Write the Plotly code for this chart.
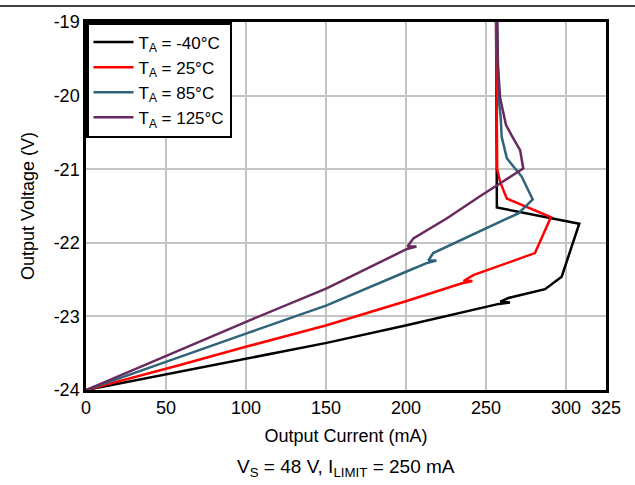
import plotly.graph_objects as go

# Output current (mA) and output voltage (V) per ambient temperature
i_m40 = [256.3, 256.5, 256.7, 256.8, 308.3, 297.3, 286.9, 264.0, 259.0, 265.0, 258.0, 200.4, 150.4, 100.4, 58.75, 0.0]
v_m40 = [-19.0, -20.5, -21.3, -21.52, -21.74, -22.46, -22.63, -22.75, -22.80, -22.81, -22.83, -23.12, -23.36, -23.57, -23.75, -24.0]

i_25 = [256.3, 256.5, 257.0, 258.8, 263.0, 290.6, 280.6, 242.0, 236.0, 241.5, 235.0, 200.4, 150.4, 100.4, 58.75, 0.0]
v_25 = [-19.0, -20.5, -21.0, -21.17, -21.40, -21.65, -22.14, -22.44, -22.52, -22.52, -22.55, -22.79, -23.12, -23.41, -23.66, -24.0]

i_85 = [257.0, 257.7, 259.2, 259.8, 263.0, 272.3, 279.2, 270.2, 217.0, 214.0, 219.0, 212.5, 200.4, 150.4, 100.4, 58.75, 0.0]
v_85 = [-19.0, -20.0, -20.3, -20.56, -20.85, -21.10, -21.41, -21.60, -22.14, -22.24, -22.24, -22.28, -22.39, -22.85, -23.23, -23.55, -24.0]

i_125 = [257.0, 257.5, 258.8, 261.5, 262.5, 266.0, 271.3, 273.3, 246.0, 225.4, 204.6, 201.0, 206.5, 200.0, 150.4, 100.4, 58.75, 0.0]
v_125 = [-19.0, -19.6, -20.03, -20.3, -20.40, -20.54, -20.74, -20.99, -21.37, -21.67, -21.94, -22.05, -22.05, -22.09, -22.62, -23.07, -23.46, -24.0]

series_names = ["T<sub>A</sub> = -40°C", "T<sub>A</sub> = 25°C", "T<sub>A</sub> = 85°C", "T<sub>A</sub> = 125°C"]
series_colors = ["#000000", "#ff0000", "#2e637a", "#68295f"]

x_ticks = [0, 50, 100, 150, 200, 250, 300, 325]
y_ticks = [-24, -23, -22, -21, -20, -19]

FONT = "Liberation Sans, Arial, sans-serif"

fig = go.Figure()
for (xs, ys), name, col in zip([(i_m40, v_m40), (i_25, v_25), (i_85, v_85), (i_125, v_125)],
                               series_names, series_colors):
    fig.add_trace(go.Scatter(x=xs, y=ys, mode="lines", name=name,
                             line=dict(color=col, width=2.5)))

fig.update_layout(
    width=635, height=485,
    margin=dict(l=86, r=29, t=22, b=95, autoexpand=False),
    paper_bgcolor="white", plot_bgcolor="white",
    font=dict(family=FONT, size=18, color="black"),
    showlegend=True,
    legend=dict(x=0, y=1, xanchor="left", yanchor="top",
                bgcolor="white", bordercolor="black", borderwidth=2.5,
                font=dict(size=17), itemwidth=40, tracegroupgap=0),
    xaxis=dict(range=[0, 325], tickvals=x_ticks, ticktext=[str(t) for t in x_ticks],
               showgrid=True, gridcolor="#c4c4c4", gridwidth=1.5, zeroline=False,
               showline=True, linecolor="black", linewidth=2.5, mirror=True,
               ticks="", tickfont=dict(size=18), automargin=False,
               title=dict(text="Output Current (mA)", font=dict(size=18), standoff=13)),
    yaxis=dict(range=[-24, -19], tickvals=y_ticks, ticktext=[str(t) for t in y_ticks],
               showgrid=True, gridcolor="#c4c4c4", gridwidth=1.5, zeroline=False,
               showline=True, linecolor="black", linewidth=2.5, mirror=True,
               ticks="", tickfont=dict(size=18), automargin=False,
               title=dict(text="Output Voltage (V)", font=dict(size=18), standoff=15)),
)

fig.add_annotation(text="V<sub>S</sub> = 48 V, I<sub>LIMIT</sub> = 250 mA",
                   xref="paper", yref="paper", x=0.5, y=-0.212,
                   xanchor="center", yanchor="middle", showarrow=False,
                   font=dict(size=19, family=FONT))

fig.add_shape(type="line", xref="paper", yref="paper",
              x0=-86 / 520, x1=549 / 520, y0=1 + 16 / 368, y1=1 + 16 / 368,
              line=dict(color="black", width=1.5))

fig.write_html("out.html", config={"displayModeBar": False},
               post_script="document.body.style.margin='0';document.body.style.overflow='hidden';")
